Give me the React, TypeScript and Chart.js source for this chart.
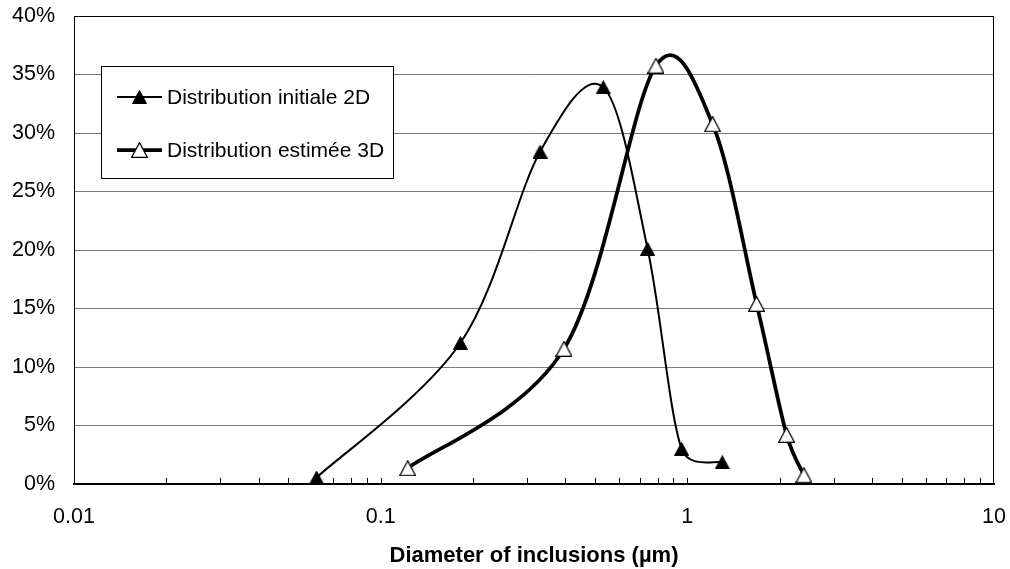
import React, { useEffect, useRef } from "react";
import { Chart, registerables } from "chart.js";

Chart.register(...registerables);

// ---- data ----
const initialX = [0.0618, 0.182, 0.331, 0.532, 0.742, 0.958, 1.3];
const initialY = [0.55, 12.05, 28.4, 33.9, 20.1, 3.0, 1.85];
const estimatedX = [0.1225, 0.396, 0.79, 1.209, 1.682, 2.107, 2.4];
const estimatedY = [1.35, 11.55, 35.75, 30.75, 15.4, 4.2, 0.75];
const seriesLabels = ["Distribution initiale 2D", "Distribution estimée 3D"];
const xTickValues = [0.01, 0.1, 1, 10];
const xMinorMultipliers = [1, 2, 3, 4, 5, 6, 7, 8, 9];
const yMin = 0;
const yMax = 40;
const yStep = 5;
const xTitle = "Diameter of inclusions (µm)";

const FONT = '"Liberation Sans", Arial, sans-serif';

function makeTriangle(fill: string, w: number, h: number, lw: number) {
  const c = document.createElement("canvas");
  c.width = w;
  c.height = h;
  const g = c.getContext("2d")!;
  g.beginPath();
  g.moveTo(w / 2, lw / 2);
  g.lineTo(w - lw / 2, h - lw / 2);
  g.lineTo(lw / 2, h - lw / 2);
  g.closePath();
  g.fillStyle = fill;
  g.fill();
  g.lineWidth = lw;
  g.strokeStyle = "#000";
  g.stroke();
  return c;
}

// Excel-like smoothing: Catmull-Rom (1/6) control points, limited to half a segment
const smoothPlugin = {
  id: "excelSmooth",
  beforeDatasetsDraw(chart: any) {
    chart.data.datasets.forEach((_ds: any, di: number) => {
      const meta = chart.getDatasetMeta(di);
      const line = meta.dataset;
      if (!line) return;
      line.updateControlPoints(chart.chartArea, "x");
      const pts = meta.data;
      const n = pts.length;
      for (let i = 0; i < n - 1; i++) {
        const p0 = pts[Math.max(i - 1, 0)];
        const p1 = pts[i];
        const p2 = pts[i + 1];
        const p3 = pts[Math.min(i + 2, n - 1)];
        const d12 = Math.hypot(p2.x - p1.x, p2.y - p1.y);
        const ax = p2.x - p0.x, ay = p2.y - p0.y;
        const bx = p3.x - p1.x, by = p3.y - p1.y;
        const la = Math.hypot(ax, ay);
        const lb = Math.hypot(bx, by);
        const lim = d12 / 2;
        const fa = la / 6 > lim ? lim / la : 1 / 6;
        const fb = lb / 6 > lim ? lim / lb : 1 / 6;
        p1.cp2x = p1.x + ax * fa;
        p1.cp2y = p1.y + ay * fa;
        p2.cp1x = p2.x - bx * fb;
        p2.cp1y = p2.y - by * fb;
      }
      line._path = undefined;
    });
  },
};

export default function App() {
  const ref = useRef<HTMLCanvasElement | null>(null);

  useEffect(() => {
    document.body.style.margin = "0";
    const canvas = ref.current;
    if (!canvas) return;

    const filledTri = makeTriangle("#000", 15, 14, 1);
    const openTri = makeTriangle("#fff", 17, 16, 1.2);
    const markers = [filledTri, openTri];
    const widths = [2, 3.75];

    const framePlugin = {
      id: "frame",
      beforeDatasetsDraw(chart: any) {
        const { ctx, chartArea } = chart;
        const xs = chart.scales.x;
        ctx.save();
        ctx.strokeStyle = "#000";
        ctx.lineWidth = 1;
        ctx.beginPath();
        const l = Math.round(chartArea.left) + 0.5;
        const r = Math.round(chartArea.right) - 0.5;
        const t = Math.round(chartArea.top) + 0.5;
        const b = Math.round(chartArea.bottom);
        ctx.moveTo(l, t);
        ctx.lineTo(r, t);
        ctx.lineTo(r, b);
        ctx.stroke();
        ctx.beginPath();
        for (let d = 0; d < xTickValues.length - 1; d++) {
          for (const m of xMinorMultipliers) {
            if (m === 1 && d === 0) continue;
            const v = xTickValues[d] * m;
            const px = Math.round(xs.getPixelForValue(v)) + 0.5;
            ctx.moveTo(px, b);
            ctx.lineTo(px, b - 6);
          }
        }
        ctx.stroke();
        ctx.restore();
      },
    };

    const legendPlugin = {
      id: "innerLegend",
      afterDatasetsDraw(chart: any) {
        const { ctx } = chart;
        ctx.save();
        ctx.font = `21px ${FONT}`;
        const textX = 167;
        let maxW = 0;
        chart.data.datasets.forEach((ds: any) => {
          maxW = Math.max(maxW, ctx.measureText(ds.label).width);
        });
        const bx = 101.5;
        const by = 66.5;
        const bw = Math.round(textX + maxW + 9 - bx);
        const bh = 112;
        ctx.fillStyle = "#fff";
        ctx.fillRect(bx, by, bw, bh);
        ctx.strokeStyle = "#000";
        ctx.lineWidth = 1;
        ctx.strokeRect(bx, by, bw, bh);
        const rows = [97, 150];
        chart.data.datasets.forEach((ds: any, i: number) => {
          const y = rows[i];
          ctx.beginPath();
          ctx.strokeStyle = "#000";
          ctx.lineWidth = widths[i];
          ctx.moveTo(117, y);
          ctx.lineTo(162, y);
          ctx.stroke();
          const mk = markers[i];
          ctx.drawImage(mk, Math.round(139.5 - mk.width / 2), Math.round(y - mk.height / 2));
          ctx.fillStyle = "#000";
          ctx.textAlign = "left";
          ctx.textBaseline = "middle";
          ctx.fillText(ds.label, textX, y + 1);
        });
        ctx.restore();
      },
    };

    const chart = new Chart(canvas, {
      type: "line",
      data: {
        datasets: [
          {
            label: seriesLabels[0],
            data: initialX.map((x, i) => ({ x, y: initialY[i] })),
            borderColor: "#000",
            borderWidth: widths[0],
            pointStyle: filledTri as any,
            pointRadius: 8,
            tension: 0.4,
            fill: false,
            clip: false as any,
          },
          {
            label: seriesLabels[1],
            data: estimatedX.map((x, i) => ({ x, y: estimatedY[i] })),
            borderColor: "#000",
            borderWidth: widths[1],
            pointStyle: openTri as any,
            pointRadius: 8,
            tension: 0.4,
            fill: false,
            clip: false as any,
          },
        ],
      },
      options: {
        animation: false,
        responsive: false,
        devicePixelRatio: 1,
        layout: { padding: { left: 0, top: 16, right: 16, bottom: 0 } },
        plugins: {
          legend: { display: false },
          tooltip: { enabled: false },
        },
        scales: {
          x: {
            type: "logarithmic",
            min: xTickValues[0],
            max: xTickValues[xTickValues.length - 1],
            afterBuildTicks: (s: any) => {
              s.ticks = xTickValues.map((v) => ({ value: v }));
            },
            afterFit: (s: any) => {
              s.height = 85;
              s.paddingLeft = 0;
              s.paddingRight = 0;
            },
            ticks: {
              autoSkip: false,
              maxRotation: 0,
              minRotation: 0,
              padding: 20,
              color: "#000",
              font: { family: FONT, size: 21.5 },
              callback: (v: any) => String(v),
            },
            grid: { display: false, drawTicks: false },
            border: { display: true, color: "#000", width: 2 },
            title: {
              display: true,
              text: xTitle,
              color: "#000",
              font: { family: FONT, size: 22, weight: "bold" },
              padding: { top: 0, bottom: 0 },
            },
          },
          y: {
            type: "linear",
            min: yMin,
            max: yMax,
            afterFit: (s: any) => {
              s.width = 74;
              s.paddingTop = 0;
              s.paddingBottom = 0;
            },
            ticks: {
              stepSize: yStep,
              padding: 19,
              color: "#000",
              font: { family: FONT, size: 21.5 },
              callback: (v: any) => `${v}%`,
            },
            grid: { color: "#7a7a7a", lineWidth: 1, drawTicks: false },
            border: { display: true, color: "#000", width: 1 },
          },
        },
      },
      plugins: [smoothPlugin, framePlugin, legendPlugin],
    });

    return () => chart.destroy();
  }, []);

  return (
    <div style={{ width: 1010, height: 569, background: "#fff" }}>
      <canvas ref={ref} width={1010} height={569} style={{ display: "block" }} />
    </div>
  );
}
